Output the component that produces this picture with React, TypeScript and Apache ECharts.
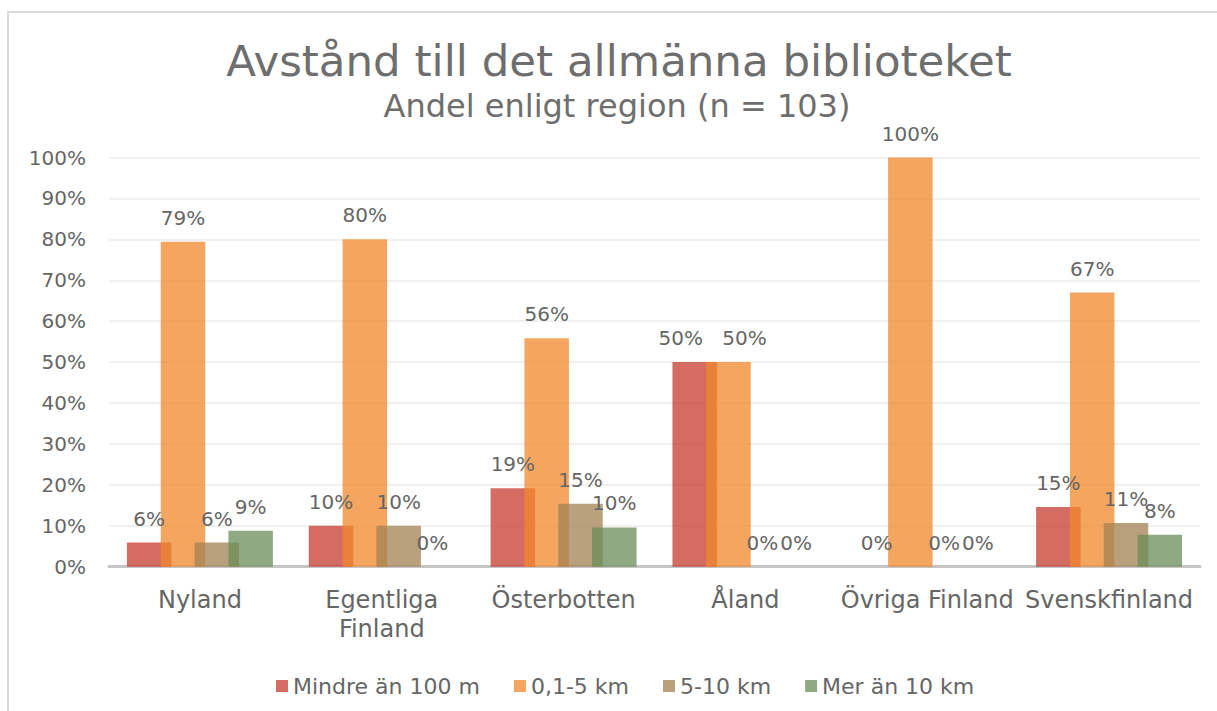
import React, { useEffect, useRef } from "react";
import * as echarts from "echarts";

const categories = ["Nyland", "Egentliga Finland", "Österbotten", "Åland", "Övriga Finland", "Svenskfinland"];
const seriesNames = ["Mindre än 100 m", "0,1-5 km", "5-10 km", "Mer än 10 km"];
const mindreAn100m = [5.9, 10, 19.2, 50, 0, 14.6];
const km01to5 = [79.4, 80, 55.8, 50, 100, 67.0];
const km5to10 = [5.9, 10, 15.4, 0, 0, 10.7];
const merAn10km = [8.8, 0, 9.6, 0, 0, 7.8];
const titleText = "Avstånd till det allmänna biblioteket";
const subtitleText = "Andel enligt region (n = 103)";

const seriesValues = [mindreAn100m, km01to5, km5to10, merAn10km];
const seriesColors = [
  "rgba(199,59,48,0.75)",
  "rgba(240,136,43,0.75)",
  "rgba(163,130,83,0.75)",
  "rgba(106,142,88,0.75)",
];
// horizontal label nudges (seriesIndex-dataIndex -> px), as in the reference where colliding labels were spread
const labelNudge: Record<string, number> = { "0-3": -14, "1-3": 16 };

const FONT = "DejaVu Sans";
const TEXT = "#666666";

export default function App() {
  const ref = useRef<HTMLDivElement>(null);

  useEffect(() => {
    if (!ref.current) return;
    const chart = echarts.init(ref.current, null, { renderer: "svg" });
    chart.setOption({
      animation: false,
      backgroundColor: "#ffffff",
      graphic: [
        {
          type: "rect",
          silent: true,
          z: -10,
          shape: { x: 8, y: 12, width: 1400, height: 900 },
          style: { fill: "none", stroke: "#d9d9d9", lineWidth: 2 },
        },
        {
          type: "text",
          x: 619,
          y: 61,
          style: {
            text: titleText,
            align: "center",
            verticalAlign: "middle",
            fontSize: 43.5,
            fontFamily: FONT,
            fill: "#6e6e6e",
          },
        },
        {
          type: "text",
          x: 617,
          y: 106,
          style: {
            text: subtitleText,
            align: "center",
            verticalAlign: "middle",
            fontSize: 32,
            fontFamily: FONT,
            fill: "#6e6e6e",
          },
        },
      ],
      legend: {
        left: 271,
        top: 670,
        icon: "rect",
        itemWidth: 12,
        itemHeight: 12,
        itemGap: 34,
        data: seriesNames,
        textStyle: { fontSize: 22, fontFamily: FONT, color: TEXT },
      },
      grid: { left: 109, right: 17, top: 157.5, bottom: 144.3, containLabel: false },
      xAxis: {
        type: "category",
        data: categories,
        axisTick: { show: false },
        axisLine: { lineStyle: { color: "#c6c6c6", width: 3 } },
        axisLabel: {
          interval: 0,
          margin: 19,
          fontSize: 24,
          lineHeight: 29,
          fontFamily: FONT,
          color: TEXT,
          formatter: (v: string) => v.replace("Egentliga ", "Egentliga\n"),
        },
      },
      yAxis: {
        type: "value",
        min: 0,
        max: 100,
        interval: 10,
        axisLine: { show: false },
        axisTick: { show: false },
        splitLine: { lineStyle: { color: "#ececec", width: 1.5 } },
        axisLabel: {
          margin: 23,
          fontSize: 20,
          fontFamily: FONT,
          color: TEXT,
          formatter: "{value}%",
        },
      },
      labelLayout: (p: any) => {
        const dx = labelNudge[p.seriesIndex + "-" + p.dataIndex];
        return dx ? { dx } : {};
      },
      series: seriesNames.map((name, i) => ({
        name,
        type: "bar",
        data: seriesValues[i],
        barWidth: 44.5,
        barGap: "-24%",
        itemStyle: { color: seriesColors[i] },
        label: {
          show: true,
          position: "top",
          distance: 14,
          fontSize: 20,
          fontFamily: FONT,
          color: TEXT,
          formatter: (p: any) => Math.round(p.value) + "%",
        },
        labelLayout: (p: any) => {
          const dx = labelNudge[i + "-" + p.dataIndex];
          return dx ? { dx } : {};
        },
      })),
    });
    return () => chart.dispose();
  }, []);

  return (
    <div
      ref={ref}
      style={{ position: "absolute", left: 0, top: 0, width: 1217, height: 711, background: "#fff" }}
    />
  );
}
